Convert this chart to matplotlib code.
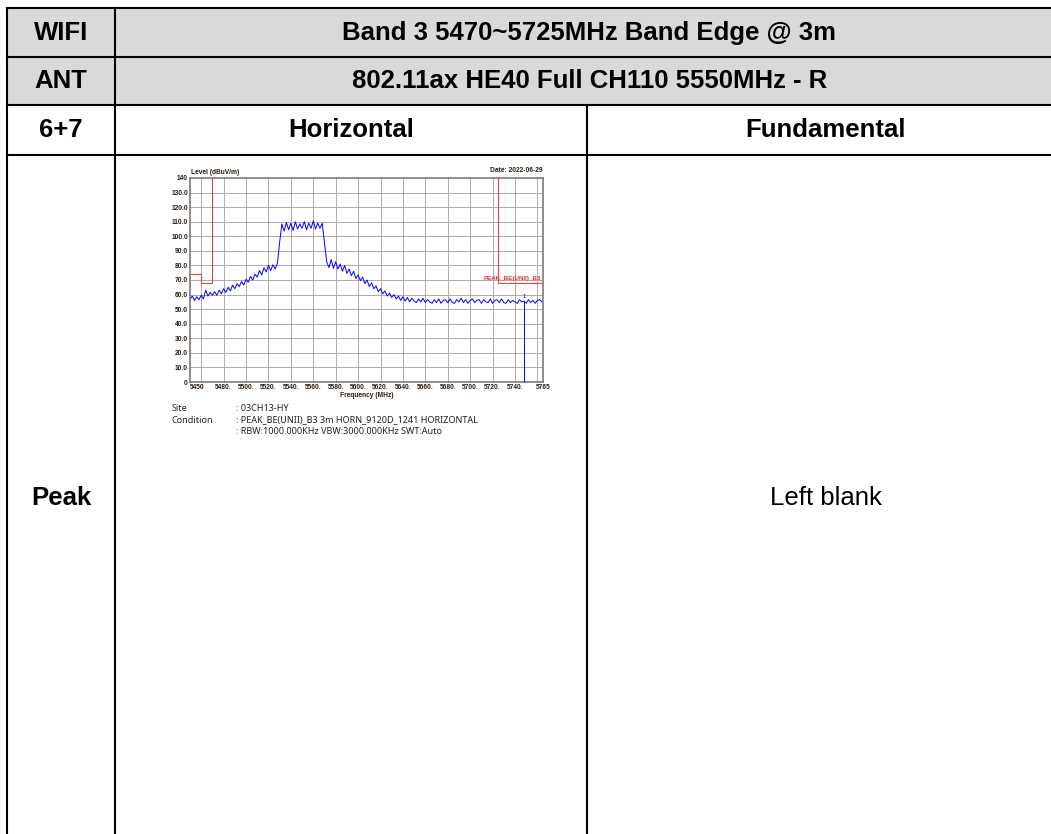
import numpy as np
import matplotlib
matplotlib.use("Agg")
import matplotlib.pyplot as plt
from matplotlib.patches import Rectangle

plt.rcParams['font.family'] = ['Liberation Sans', 'DejaVu Sans']

# Table texts
row_heads = ["WIFI", "ANT", "6+7", "Peak"]
title_band = "Band 3 5470~5725MHz Band Edge @ 3m"
title_mode = "802.11ax HE40 Full CH110 5550MHz - R"
col_heads = ["Horizontal", "Fundamental"]
right_cell = "Left blank"

# Spectrum trace, 2 MHz steps from 5450 MHz
freq_start, freq_step = 5450, 2
level = [
    56.5, 59, 56, 58.5, 56.5, 59.5, 57,                    # 5450-5462
    63, 59, 61.5, 59.5,                                    # 5464-5470
    62, 59.5, 63, 60.5, 64, 61.5, 65, 62.5, 66.5, 64,      # 5472-5490
    67.5, 65.5, 69, 66.5, 70.5,                            # 5492-5500
    68.5, 72.5, 70, 74, 72, 76.5, 73.5, 78.5, 75.5, 80,    # 5502-5520
    76.5, 80.5, 77.5, 81.5,                                # 5522-5528
    96, 108.5, 103.5, 109.5, 104.5, 109, 104, 110, 105,    # 5530-5546
    108.5, 105.5, 110, 104.5, 109, 105.5, 110.5, 105, 109, # 5548-5564
    105.5, 109, 96,                                        # 5566-5570
    82.5, 78.5, 84, 78, 82.5, 77.5, 81, 76, 80, 74.5,      # 5572-5590
    77.5, 73, 76, 71, 73.5, 69.5, 72, 67.5, 70, 65.5,      # 5592-5610
    68, 64, 66, 62, 64, 60.5, 62.5, 59, 61,                # 5612-5628
    58, 60, 57, 59, 56, 58.5,                              # 5630-5640
    55.5, 58, 55, 57.5, 55.5, 54.5, 57, 55, 57.5, 54.5,    # 5642-5660
    56.5, 55, 54, 56.5, 54.5, 57, 54, 56, 56.5, 54.5,      # 5662-5680
    57, 54.5, 54, 56.5, 55, 57.5, 54.5, 56.5, 54, 56,      # 5682-5700
    57, 54.5, 56, 56.5, 54, 56.5, 55, 54.5, 57, 54,        # 5702-5720
    56, 56.5, 54.5, 57, 54.5, 54, 56.5, 54.5, 56, 55,      # 5722-5740
    54, 56.5, 55, 55.5, 54, 56.5, 54.5, 56, 54, 56,        # 5742-5760
    56.5, 55,                                              # 5762-5764
]
freq = freq_start + freq_step * np.arange(len(level))

# Band-edge limit lines (dBuV/m)
limit_left_f = [5450, 5460, 5460, 5470, 5470]
limit_left_l = [74, 74, 68.2, 68.2, 140]
limit_right_f = [5725, 5725, 5765]
limit_right_l = [140, 68.2, 68.2]
limit_name = "PEAK_BE(UNII)_B3"

marker_freq, marker_level = 5748, 55.5

x_ticks = [5450, 5480, 5500, 5520, 5540, 5560, 5580, 5600, 5620,
           5640, 5660, 5680, 5700, 5720, 5740, 5765]
x_labels = ["5450"] + [f"{t}." for t in x_ticks[1:-1]] + ["5765"]
y_ticks = list(range(0, 141, 10))
y_labels = ["0"] + [f"{t}.0" for t in y_ticks[1:-1]] + ["140"]

site = "03CH13-HY"
condition = "PEAK_BE(UNII)_B3 3m HORN_9120D_1241 HORIZONTAL"
settings = "RBW:1000.000KHz VBW:3000.000KHz SWT:Auto"

W, H = 1051, 834
fig = plt.figure(figsize=(W / 100, H / 100), dpi=100)

# ---- table frame in pixel coordinates ----
tab = fig.add_axes([0, 0, 1, 1])
tab.set_xlim(0, W)
tab.set_ylim(H, 0)
tab.axis('off')

x_left, x_c1, x_c2, x_right = 7, 115, 587, 1064
y_rows = [8, 57, 105, 155]
y_bottom = 840
tab.add_patch(Rectangle((x_left, y_rows[0]), x_right - x_left, y_rows[2] - y_rows[0],
                        facecolor='#d9d9d9', edgecolor='none'))
lw = 1.5
for y in y_rows:
    tab.plot([x_left, x_right], [y, y], color='black', lw=lw, solid_capstyle='projecting')
for x in (x_left, x_c1):
    tab.plot([x, x], [y_rows[0], y_bottom], color='black', lw=lw)
tab.plot([x_c2, x_c2], [y_rows[2], y_bottom], color='black', lw=lw)

head_kw = dict(ha='center', va='center', fontsize=18.5, fontweight='bold')
centers_y = [(y_rows[0] + y_rows[1]) / 2, (y_rows[1] + y_rows[2]) / 2,
             (y_rows[2] + y_rows[3]) / 2, (y_rows[3] + y_bottom) / 2]
for name, yc in zip(row_heads, centers_y):
    tab.text((x_left + x_c1) / 2, yc, name, **head_kw)
tab.text((x_c1 + x_right) / 2, centers_y[0], title_band, **head_kw)
tab.text((x_c1 + x_right) / 2, centers_y[1], title_mode, **head_kw)
tab.text((x_c1 + x_c2) / 2, centers_y[2], col_heads[0], **head_kw)
tab.text((x_c2 + x_right) / 2, centers_y[2], col_heads[1], **head_kw)
tab.text((x_c2 + x_right) / 2, centers_y[3], right_cell, ha='center', va='center',
         fontsize=18.5)

# ---- spectrum plot ----
px0, px1, py0, py1 = 190, 543, 178, 382
ax = fig.add_axes([px0 / W, 1 - py1 / H, (px1 - px0) / W, (py1 - py0) / H])
ax.set_xlim(5450, 5765)
ax.set_ylim(0, 140)

for f in range(5460, 5765, 20):
    ax.axvline(f, color='#ababab', lw=0.7, zorder=1)
for lv in y_ticks[1:-1]:
    ax.axhline(lv, color='#ababab', lw=0.7, zorder=1)

ax.plot(limit_left_f, limit_left_l, color='#f04040', lw=0.8, zorder=3)
ax.plot(limit_right_f, limit_right_l, color='#f04040', lw=0.8, zorder=3)
ax.text(5763, 69.5, limit_name, color='#f03030', fontsize=4.5, fontweight='bold',
        ha='right', va='bottom', zorder=4)

ax.plot(freq, level, color='#0000ff', lw=0.7, zorder=2)
ax.plot([marker_freq, marker_freq], [0, marker_level], color='#0000ff', lw=0.7, zorder=3)
ax.text(marker_freq, marker_level + 1.5, "1", color='#0000ff', fontsize=4.3,
        ha='center', va='bottom')

for sp in ax.spines.values():
    sp.set_color('#707070')
    sp.set_linewidth(1.1)

ax.set_xticks(x_ticks)
ax.set_xticklabels(x_labels)
ax.set_yticks(y_ticks)
ax.set_yticklabels(y_labels)
ax.tick_params(length=0, labelsize=4.8, pad=1.5, labelcolor='#2a1c10')
for lab in ax.get_xticklabels() + ax.get_yticklabels():
    lab.set_fontweight('bold')
ax.get_xticklabels()[0].set_ha('left')

ax.text(0.003, 1.01, "Level (dBuV/m)", transform=ax.transAxes, fontsize=4.8,
        fontweight='bold', color='#2a1c10', ha='left', va='bottom')
ax.text(1.0, 1.02, "Date: 2022-06-29", transform=ax.transAxes, fontsize=4.8,
        fontweight='bold', color='#2a1c10', ha='right', va='bottom')
ax.set_xlabel("Frequency (MHz)", fontsize=4.8, fontweight='bold', color='#2a1c10',
              labelpad=0.5)

# setup notes under the plot
note_kw = dict(fontsize=6.5, family=['Noto Sans', 'DejaVu Sans'], color='#222222',
               va='center', ha='left')
tab.text(172, 408, "Site", **note_kw)
tab.text(172, 420, "Condition", **note_kw)
tab.text(236, 408, ": " + site, **note_kw)
tab.text(236, 420, ": " + condition, **note_kw)
tab.text(236, 431, ": " + settings, **note_kw)

fig.savefig("out.png", dpi=100)
